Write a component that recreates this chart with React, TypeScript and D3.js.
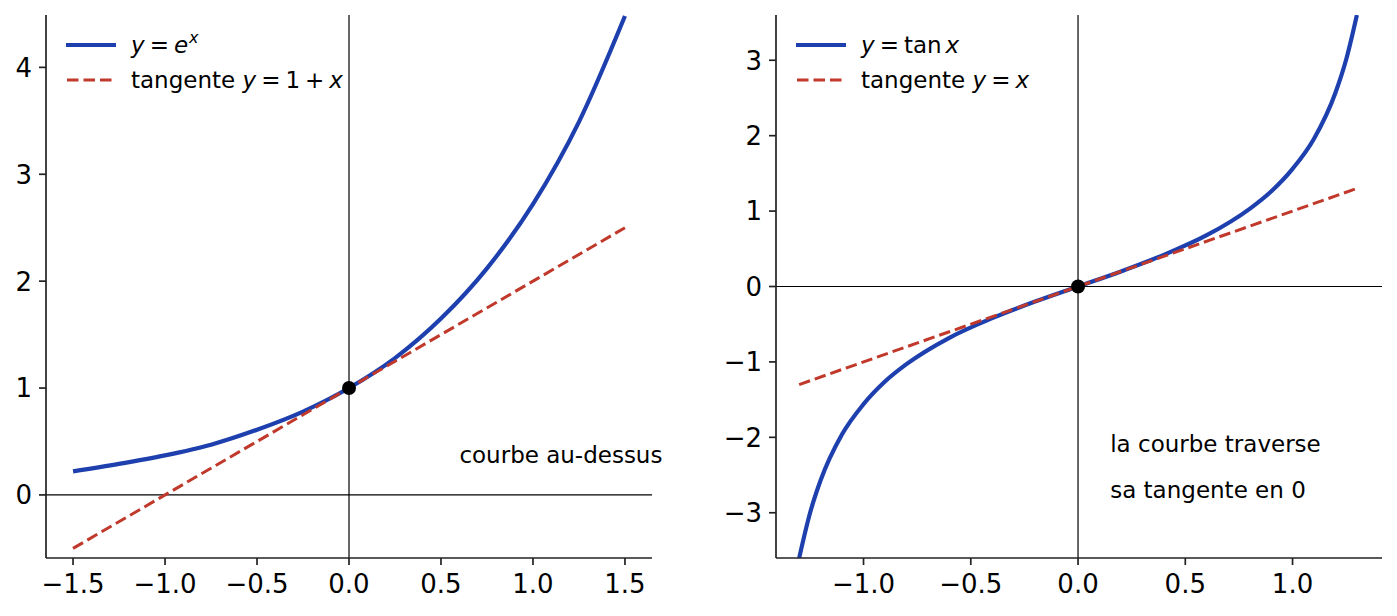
import * as d3 from 'd3';

// courbe exponentielle, valeurs
const expX = [-1.5, -1.25, -1, -0.75, -0.5, -0.25, 0, 0.25, 0.5, 0.75, 1, 1.25, 1.5];
const expY = [0.22, 0.29, 0.37, 0.47, 0.61, 0.78, 1.0, 1.28, 1.65, 2.12, 2.72, 3.49, 4.48];
const expTangentX = [-1.5, 1.5];
const expTangentY = [-0.5, 2.5];
const expPoint = [0, 1];

// courbe tangente
const tanX = [-1.3, -1.25, -1.2, -1.1, -1.0, -0.9, -0.8, -0.6, -0.4, -0.2, 0, 0.2, 0.4, 0.6, 0.8, 0.9, 1.0, 1.1, 1.2, 1.25, 1.3];
const tanY = [-3.6, -3.01, -2.57, -1.96, -1.56, -1.26, -1.03, -0.68, -0.42, -0.2, 0, 0.2, 0.42, 0.68, 1.03, 1.26, 1.56, 1.96, 2.57, 3.01, 3.6];
const tanTangentX = [-1.3, 1.3];
const tanTangentY = [-1.3, 1.3];
const tanPoint = [0, 0];

const leftXTicks = [-1.5, -1.0, -0.5, 0.0, 0.5, 1.0, 1.5];
const leftYTicks = [0, 1, 2, 3, 4];
const rightXTicks = [-1.0, -0.5, 0.0, 0.5, 1.0];
const rightYTicks = [-3, -2, -1, 0, 1, 2, 3];

const BLUE = '#1e40af';
const RED = '#c0392b';
const FONT = 'DejaVu Sans';

const fmtX = (v: number) => d3.format('.1f')(v).replace('-', '\u2212');
const fmtY = (v: number) => String(v).replace('-', '\u2212');

type PanelProps = {
  id: string;
  left: number;
  right: number;
  xDomain: [number, number];
  yDomain: [number, number];
  xTicks: number[];
  yTicks: number[];
  curveX: number[];
  curveY: number[];
  tanLineX: number[];
  tanLineY: number[];
  point: number[];
  legend: [React.ReactNode, React.ReactNode];
  notes: { x: number; y: number; text: string }[];
};

function Panel(p: PanelProps) {
  const top = 15;
  const bottom = 558;
  const x = d3.scaleLinear().domain(p.xDomain).range([p.left, p.right]);
  const y = d3.scaleLinear().domain(p.yDomain).range([bottom, top]);

  const line = d3.line<number>()
    .x((_, i) => x(p.curveX[i]))
    .y(d => y(d))
    .curve(d3.curveMonotoneX);
  const straight = d3.line<number>()
    .x((_, i) => x(p.tanLineX[i]))
    .y(d => y(d));

  return (
    <g>
      <defs>
        <clipPath id={p.id}>
          <rect x={p.left} y={top} width={p.right - p.left} height={bottom - top} />
        </clipPath>
      </defs>
      {/* axes x=0 et y=0 */}
      <line x1={p.left} x2={p.right} y1={y(0)} y2={y(0)} stroke="#000" strokeWidth={1.2} />
      <line x1={x(0)} x2={x(0)} y1={top} y2={bottom} stroke="#000" strokeWidth={1.2} />
      <g clipPath={`url(#${p.id})`}>
        <path d={line(p.curveY) || ''} fill="none" stroke={BLUE} strokeWidth={4.2} />
        <path d={straight(p.tanLineY) || ''} fill="none" stroke={RED} strokeWidth={3}
          strokeDasharray="11.5 5" />
      </g>
      <circle cx={x(p.point[0])} cy={y(p.point[1])} r={7} fill="#000" />
      {/* spines */}
      <line x1={p.left} x2={p.left} y1={top} y2={bottom} stroke="#222" strokeWidth={1.7} />
      <line x1={p.left} x2={p.right} y1={bottom} y2={bottom} stroke="#222" strokeWidth={1.7} />
      {p.yTicks.map(t => (
        <g key={'y' + t}>
          <line x1={p.left - 7} x2={p.left} y1={y(t)} y2={y(t)} stroke="#222" strokeWidth={1.7} />
          <text x={p.left - 14} y={y(t)} dy="0.36em" textAnchor="end" fontSize={26}
            fontFamily={FONT} fill="#000">{fmtY(t)}</text>
        </g>
      ))}
      {p.xTicks.map(t => (
        <g key={'x' + t}>
          <line x1={x(t)} x2={x(t)} y1={bottom} y2={bottom + 7} stroke="#222" strokeWidth={1.7} />
          <text x={x(t)} y={593} textAnchor="middle" fontSize={26}
            fontFamily={FONT} fill="#000">{fmtX(t)}</text>
        </g>
      ))}
      {/* légende */}
      <g transform={`translate(${p.left + 20},0)`}>
        <line x1={0} x2={50} y1={45} y2={45} stroke={BLUE} strokeWidth={4.2} />
        <line x1={1} x2={50} y1={80} y2={80} stroke={RED} strokeWidth={3} strokeDasharray="11.5 5" />
        <text x={65} y={53} fontSize={23} fontFamily={FONT}>{p.legend[0]}</text>
        <text x={65} y={88} fontSize={23} fontFamily={FONT}>{p.legend[1]}</text>
      </g>
      {p.notes.map(n => (
        <text key={n.text} x={x(n.x)} y={y(n.y)} fontSize={23} fontFamily={FONT} fill="#000">
          {n.text}
        </text>
      ))}
    </g>
  );
}

export default function App() {
  const it = { fontStyle: 'italic' as const };
  return (
    <svg width={1397} height={616} style={{ position: 'absolute', left: 0, top: 0, background: '#fff' }}>
      <Panel
        id="clipL" left={46} right={652}
        xDomain={[-1.647, 1.647]} yDomain={[-0.59, 4.49]}
        xTicks={leftXTicks} yTicks={leftYTicks}
        curveX={expX} curveY={expY}
        tanLineX={expTangentX} tanLineY={expTangentY}
        point={expPoint}
        legend={[
          <><tspan style={it}>y</tspan><tspan dx={5}>=</tspan><tspan dx={5} style={it}>e</tspan>
            <tspan dx={1} dy={-10} fontSize={16} style={it}>x</tspan></>,
          <>tangente <tspan style={it}>y</tspan><tspan dx={5}>=</tspan><tspan dx={5}>1</tspan>
            <tspan dx={5}>+</tspan><tspan dx={5} style={it}>x</tspan></>,
        ]}
        notes={[{ x: 0.6, y: 0.3, text: 'courbe au-dessus' }]}
      />
      <Panel
        id="clipR" left={776} right={1382}
        xDomain={[-1.408, 1.417]} yDomain={[-3.6, 3.6]}
        xTicks={rightXTicks} yTicks={rightYTicks}
        curveX={tanX} curveY={tanY}
        tanLineX={tanTangentX} tanLineY={tanTangentY}
        point={tanPoint}
        legend={[
          <><tspan style={it}>y</tspan><tspan dx={5}>=</tspan><tspan dx={5}>tan</tspan>
            <tspan dx={4} style={it}>x</tspan></>,
          <>tangente <tspan style={it}>y</tspan><tspan dx={5}>=</tspan><tspan dx={5} style={it}>x</tspan></>,
        ]}
        notes={[
          { x: 0.15, y: -2.2, text: 'la courbe traverse' },
          { x: 0.15, y: -2.8, text: 'sa tangente en 0' },
        ]}
      />
    </svg>
  );
}
